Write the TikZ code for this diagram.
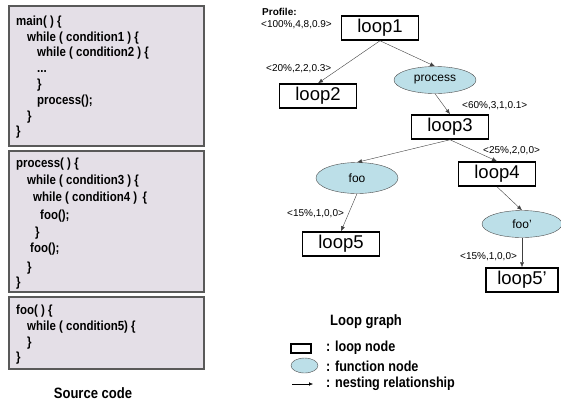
\documentclass[tikz,border=0pt]{standalone}
\usepackage{fontspec}
\setmainfont{Liberation Sans}
\newfontfamily\codefont[FakeStretch=0.87]{Liberation Sans}
\usetikzlibrary{arrows.meta,shapes.geometric}
\definecolor{codebg}{HTML}{E4DFE7}
\definecolor{funcbg}{HTML}{BCDFE8}
\begin{document}
\begin{tikzpicture}[x=1pt,y=-1pt,
  codebox/.style={draw=black!65,line width=1.3pt,fill=codebg},
  codeline/.style={anchor=base west,inner sep=0pt,font=\codefont\bfseries\fontsize{13.2}{14}\selectfont},
  loopnode/.style={draw,line width=1.5pt,minimum width=77pt,minimum height=24pt,inner sep=0pt,font=\fontsize{18.5}{19}\selectfont},
  funcnode/.style={ellipse,draw=black!70,fill=funcbg,minimum width=82pt,minimum height=27pt,inner sep=0pt,font=\fontsize{12}{13}\selectfont},
  prof/.style={inner sep=0pt,font=\fontsize{10}{11}\selectfont},
  nest/.style={draw=black!75,-{Latex[length=5pt,width=4pt]}},
  legendline/.style={anchor=west,inner sep=0pt,font=\codefont\bfseries\fontsize{14.5}{15}\selectfont},
  caption/.style={inner sep=0pt,font=\codefont\bfseries\fontsize{15}{16}\selectfont}]
\useasboundingbox (0,0) rectangle (561,405);
% source code
\draw[codebox] (9,6) rectangle (204,146);
\node[codeline] (m1) at (16,25) {main( ) \{};
\node[codeline] (m2) at (27,41) {while ( condition1 ) \{};
\node[codeline] (m3) at (37,56) {while ( condition2 ) \{};
\node[codeline] (m4) at (37,72) {...};
\node[codeline] (m5) at (37,88) {\}};
\node[codeline] (m6) at (37,104) {process();};
\node[codeline] (m7) at (27,120) {\}};
\node[codeline] (m8) at (16,135) {\}};
\draw[codebox] (9,151) rectangle (204,292);
\node[codeline] (p1) at (16,167) {process( ) \{};
\node[codeline] (p2) at (27,184) {while ( condition3 ) \{};
\node[codeline] (p3) at (33,201) {while ( condition4 )\, \{};
\node[codeline] (p4) at (40,219) {foo();};
\node[codeline] (p5) at (35,236) {\}};
\node[codeline] (p6) at (30,252) {foo();};
\node[codeline] (p7) at (27,271) {\}};
\node[codeline] (p8) at (16,286) {\}};
\draw[codebox] (9,297) rectangle (204,369);
\node[codeline] (f1) at (16,314) {foo( ) \{};
\node[codeline] (f2) at (27,330) {while ( condition5) \{};
\node[codeline] (f3) at (27,346) {\}};
\node[codeline] (f4) at (16,361) {\}};
\node[caption] (src) at (93,393) {Source code};
% loop graph
\node[loopnode] (loop1) at (380,28) {loop1};
\node[loopnode] (loop2) at (318,96) {loop2};
\node[funcnode] (process) at (435,80) {process};
\node[loopnode] (loop3) at (450,127) {loop3};
\node[funcnode,minimum height=31pt] (foo) at (357,178) {foo};
\node[loopnode] (loop4) at (497,174) {loop4};
\node[funcnode,minimum width=80pt] (foo2) at (522,224) {foo'};
\node[loopnode] (loop5) at (341,244) {loop5};
\node[loopnode,minimum width=72pt] (loop6) at (522,280) {loop5'};
\draw[nest] (loop1.south) -- (loop2.north);
\draw[nest] (loop1.south) -- (process.north);
\draw[nest] (process.south) -- (loop3.north);
\draw[nest] (loop3.south) -- (foo.north);
\draw[nest] (loop3.south) -- (loop4.north);
\draw[nest] (foo.south) -- (loop5.north);
\draw[nest] (loop4.south) -- (foo2.north);
\draw[nest] (foo2.south) -- (loop6.north);
% profiles
\node[prof,anchor=west,font=\bfseries\fontsize{10}{11}\selectfont] (ptitle) at (262,12) {Profile:};
\node[prof,anchor=west] (pr1) at (261,25) {<100\%,4,8,0.9>};
\node[prof,anchor=west] (pr2) at (266,69) {<20\%,2,2,0.3>};
\node[prof,anchor=west] (pr3) at (462,106) {<60\%,3,1,0.1>};
\node[prof,anchor=west] (pr4) at (483,151) {<25\%,2,0,0>};
\node[prof,anchor=west] (pr5) at (287,214) {<15\%,1,0,0>};
\node[prof,anchor=west] (pr6) at (460,257) {<15\%,1,0,0>};
% legend
\node[caption,anchor=west] (lg) at (330,322) {Loop graph};
\draw[line width=1.2pt] (291,344) rectangle (311,353);
\draw[draw=black!70,fill=funcbg] (304.5,365.5) ellipse (13.5pt and 7.5pt);
\coordinate (la) at (292,384);
\coordinate (lb) at (313,384);
\draw[-{Latex[length=4pt,width=3.5pt]}] (la) -- (lb);
\node[legendline] (l1) at (326,348) {: loop node};
\node[legendline] (l2) at (326,366) {: function node};
\node[legendline] (l3) at (326,384) {: nesting relationship};
\end{tikzpicture}
\end{document}
